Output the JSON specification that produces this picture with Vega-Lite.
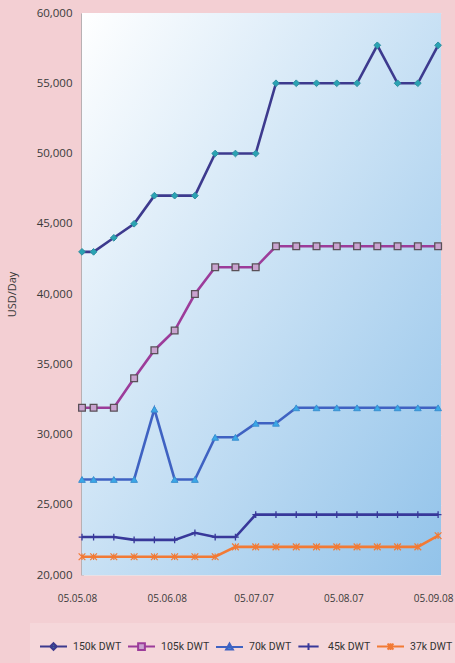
{
  "$schema": "https://vega.github.io/schema/vega-lite/v6.json",
  "width": 359,
  "height": 562,
  "autosize": "none",
  "padding": {"left": 82, "top": 13, "right": 14, "bottom": 88},
  "background": "#f3cfd3",
  "config": {"view": {"stroke": null}, "font": "Open Sans", "axis": {"labelFont": "Open Sans", "titleFont": "Open Sans"}, "legend": {"labelFont": "Roboto"}},
  "data": {
    "values": [
      {"date": "2008-05-05", "150k DWT": 43000, "105k DWT": 31900, "70k DWT": 26800, "45k DWT": 22700, "37k DWT": 21300},
      {"date": "2008-05-09", "150k DWT": 43000, "105k DWT": 31900, "70k DWT": 26800, "45k DWT": 22700, "37k DWT": 21300},
      {"date": "2008-05-16", "150k DWT": 44000, "105k DWT": 31900, "70k DWT": 26800, "45k DWT": 22700, "37k DWT": 21300},
      {"date": "2008-05-23", "150k DWT": 45000, "105k DWT": 34000, "70k DWT": 26800, "45k DWT": 22500, "37k DWT": 21300},
      {"date": "2008-05-30", "150k DWT": 47000, "105k DWT": 36000, "70k DWT": 31800, "45k DWT": 22500, "37k DWT": 21300},
      {"date": "2008-06-06", "150k DWT": 47000, "105k DWT": 37400, "70k DWT": 26800, "45k DWT": 22500, "37k DWT": 21300},
      {"date": "2008-06-13", "150k DWT": 47000, "105k DWT": 40000, "70k DWT": 26800, "45k DWT": 23000, "37k DWT": 21300},
      {"date": "2008-06-20", "150k DWT": 50000, "105k DWT": 41900, "70k DWT": 29800, "45k DWT": 22700, "37k DWT": 21300},
      {"date": "2008-06-27", "150k DWT": 50000, "105k DWT": 41900, "70k DWT": 29800, "45k DWT": 22700, "37k DWT": 22000},
      {"date": "2008-07-04", "150k DWT": 50000, "105k DWT": 41900, "70k DWT": 30800, "45k DWT": 24300, "37k DWT": 22000},
      {"date": "2008-07-11", "150k DWT": 55000, "105k DWT": 43400, "70k DWT": 30800, "45k DWT": 24300, "37k DWT": 22000},
      {"date": "2008-07-18", "150k DWT": 55000, "105k DWT": 43400, "70k DWT": 31900, "45k DWT": 24300, "37k DWT": 22000},
      {"date": "2008-07-25", "150k DWT": 55000, "105k DWT": 43400, "70k DWT": 31900, "45k DWT": 24300, "37k DWT": 22000},
      {"date": "2008-08-01", "150k DWT": 55000, "105k DWT": 43400, "70k DWT": 31900, "45k DWT": 24300, "37k DWT": 22000},
      {"date": "2008-08-08", "150k DWT": 55000, "105k DWT": 43400, "70k DWT": 31900, "45k DWT": 24300, "37k DWT": 22000},
      {"date": "2008-08-15", "150k DWT": 57700, "105k DWT": 43400, "70k DWT": 31900, "45k DWT": 24300, "37k DWT": 22000},
      {"date": "2008-08-22", "150k DWT": 55000, "105k DWT": 43400, "70k DWT": 31900, "45k DWT": 24300, "37k DWT": 22000},
      {"date": "2008-08-29", "150k DWT": 55000, "105k DWT": 43400, "70k DWT": 31900, "45k DWT": 24300, "37k DWT": 22000},
      {"date": "2008-09-05", "150k DWT": 57700, "105k DWT": 43400, "70k DWT": 31900, "45k DWT": 24300, "37k DWT": 22800}
    ]
  },
  "transform": [
    {"fold": ["150k DWT", "105k DWT", "70k DWT", "45k DWT", "37k DWT"], "as": ["series", "value"]}
  ],
  "encoding": {
    "x": {
      "field": "date",
      "type": "temporal",
      "scale": {"type": "utc", "domain": [{"year": 2008, "month": 5, "date": 5, "utc": true}, {"year": 2008, "month": 9, "date": 6, "utc": true}]},
      "axis": {
        "title": null,
        "domain": false,
        "ticks": false,
        "grid": false,
        "values": [
          {"year": 2008, "month": 5, "date": 5, "utc": true},
          {"year": 2008, "month": 6, "date": 5, "utc": true},
          {"year": 2008, "month": 7, "date": 5, "utc": true},
          {"year": 2008, "month": 8, "date": 5, "utc": true},
          {"year": 2008, "month": 9, "date": 5, "utc": true}
        ],
        "labelExpr": "utcmonth(datum.value)==6 ? '05.07.07' : utcmonth(datum.value)==7 ? '05.08.07' : utcFormat(datum.value, '%d.%m.%y')",
        "labelPadding": 18,
        "labelFontSize": 10,
        "labelOffset": -5,
        "labelColor": "#3a3a3a",
        "labelFlush": false,
        "labelOverlap": false
      }
    },
    "y": {
      "field": "value",
      "type": "quantitative",
      "scale": {"domain": [20000, 60000], "nice": false, "zero": false},
      "axis": {
        "title": "USD/Day",
        "titleFontWeight": "normal",
        "titleFontSize": 11,
        "titleColor": "#3a3a3a",
        "titlePadding": 19,
        "values": [20000, 25000, 30000, 35000, 40000, 45000, 50000, 55000, 60000],
        "format": ",.0f",
        "ticks": false,
        "labelPadding": 10,
        "labelFontSize": 11.5,
        "labelColor": "#3a3a3a",
        "domainColor": "#b8b0b3",
        "domainWidth": 3,
        "gridColor": "#e3ebf2",
        "gridOpacity": 0.6
      }
    }
  },
  "layer": [
    {
      "data": {"values": [{}]},
      "transform": [],
      "mark": {
        "type": "rect",
        "color": {
          "gradient": "linear", "x1": 0, "y1": 0, "x2": 1, "y2": 1,
          "stops": [{"offset": 0, "color": "#ffffff"}, {"offset": 1, "color": "#92c3ea"}]
        }
      },
      "encoding": {
        "x": {"value": 0}, "x2": {"value": "width"},
        "y": {"value": 0}, "y2": {"value": "height"}
      }
    },
    {
      "mark": {"type": "line", "strokeWidth": 2.6},
      "encoding": {
        "color": {
          "field": "series",
          "type": "nominal",
          "scale": {
            "domain": ["150k DWT", "105k DWT", "70k DWT", "45k DWT", "37k DWT"],
            "range": ["#3d3a8e", "#9c3c9a", "#3f62c2", "#38389a", "#f27a35"]
          },
          "legend": {
            "title": null,
            "orient": "none",
            "direction": "horizontal",
            "legendX": -52,
            "legendY": 610,
            "fillColor": "#f5d7da",
            "padding": 9,
            "symbolSize": 729,
            "symbolStrokeWidth": 2,
            "symbolType": "M-1,0H1",
            "labelFontSize": 10.5,
            "labelColor": "#333333",
            "labelOffset": 5,
            "columnPadding": 2,
            "encode": {
              "symbols": {
                "update": {
                  "shape": {"signal": "datum.value=='150k DWT' ? 'M-1,0H1M0,-0.25L0.25,0L0,0.25L-0.25,0Z' : datum.value=='105k DWT' ? 'M-1,0H-0.25M0.25,0H1M-0.25,-0.25H0.25V0.25H-0.25Z' : datum.value=='70k DWT' ? 'M-1,0H1M0,-0.25L0.25,0.2H-0.25Z' : datum.value=='45k DWT' ? 'M-0.75,0H0.75M0,-0.25V0.25' : 'M-1,0H1M-0.22,-0.22L0.22,0.22M-0.22,0.22L0.22,-0.22M0,-0.25V0.25'"},
                  "fill": {"signal": "datum.value=='150k DWT' ? '#2aa3b3' : datum.value=='105k DWT' ? '#c9a3cf' : datum.value=='70k DWT' ? '#3aa8e8' : 'transparent'"},
                  "opacity": {"value": 1}
                }
              }
            }
          }
        }
      }
    },
    {
      "transform": [{"filter": "datum.series == '150k DWT'"}],
      "mark": {"type": "point", "shape": "diamond", "size": 45, "strokeWidth": 1, "filled": true, "fill": "#2aa3b3", "stroke": "#2f8fa0", "opacity": 1}
    },
    {
      "transform": [{"filter": "datum.series == '105k DWT'"}],
      "mark": {"type": "point", "shape": "square", "size": 45, "strokeWidth": 1.3, "fill": "#c9a3cf", "stroke": "#5a5058", "opacity": 1}
    },
    {
      "transform": [{"filter": "datum.series == '70k DWT'"}],
      "mark": {"type": "point", "shape": "triangle-up", "size": 45, "strokeWidth": 1, "fill": "#3aa8e8", "stroke": "#3a8fd0", "opacity": 1}
    },
    {
      "transform": [{"filter": "datum.series == '45k DWT'"}],
      "mark": {"type": "point", "shape": "M0,-1V1M-1,0H1", "size": 45, "strokeWidth": 1.3, "fill": "transparent", "stroke": "#38389a", "opacity": 1}
    },
    {
      "transform": [{"filter": "datum.series == '37k DWT'"}],
      "mark": {"type": "point", "shape": "M-1,-1L1,1M-1,1L1,-1M0,-1V1", "size": 45, "strokeWidth": 1.2, "fill": "transparent", "stroke": "#f27a35", "opacity": 1}
    }
  ]
}
